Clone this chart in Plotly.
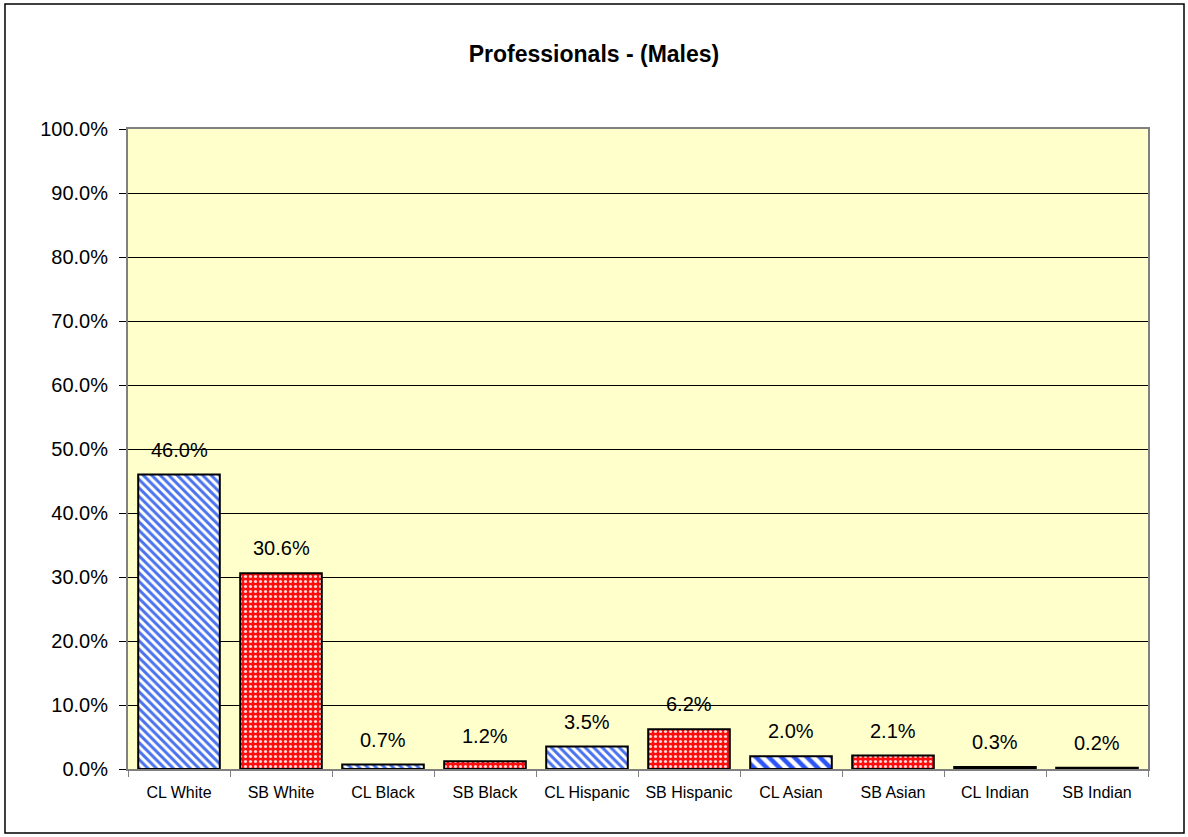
import plotly.graph_objects as go

categories = ["CL White", "SB White", "CL Black", "SB Black", "CL Hispanic",
              "SB Hispanic", "CL Asian", "SB Asian", "CL Indian", "SB Indian"]
values = [46.0, 30.6, 0.7, 1.2, 3.5, 6.2, 2.0, 2.1, 0.3, 0.2]
y_ticks = [0, 10, 20, 30, 40, 50, 60, 70, 80, 90, 100]
y_tick_labels = [f"{t:.1f}%" for t in y_ticks]

cl_cats = ["CL White", "CL Black", "CL Hispanic", "CL Indian"]
cl_asian_cats = ["CL Asian"]
sb_cats = ["SB White", "SB Black", "SB Hispanic", "SB Asian", "SB Indian"]

val = dict(zip(categories, values))

BLUE = "#4a72ee"
BLUE2 = "#2d55f5"
RED = "#ff0d0d"

font = "Arial, Liberation Sans, sans-serif"


def bar_trace(cats, bg, fg, shape, size, solidity):
    return go.Bar(
        x=cats, y=[val[c] for c in cats],
        marker=dict(
            color=bg,
            line=dict(color="black", width=2),
            pattern=dict(shape=shape, fgcolor=fg, size=size,
                         solidity=solidity, fillmode="overlay", fgopacity=1),
        ),
        width=0.8,
    )


fig = go.Figure([
    bar_trace(cl_cats, "white", BLUE, "\\", 6, 0.5),
    bar_trace(cl_asian_cats, "white", BLUE2, "\\", 9, 0.5),
    bar_trace(sb_cats, RED, "#ffd8d8", ".", 5, 0.3),
])

annotations = [
    dict(x=c, y=v, xref="x", yref="y", text=f"{v:.1f}%", showarrow=False,
         yanchor="bottom", yshift=12,
         font=dict(family=font, size=20, color="black"))
    for c, v in zip(categories, values)
]

fig.update_layout(
    width=1188, height=837,
    margin=dict(l=128, r=40, t=129, b=68),
    paper_bgcolor="white",
    plot_bgcolor="#ffffcc",
    showlegend=False,
    barmode="overlay",
    title=dict(text="<b>Professionals - (Males)</b>", x=0.5, xanchor="center",
               y=1 - 54 / 837, yanchor="middle",
               font=dict(family=font, size=23, color="black")),
    font=dict(family=font, color="black"),
    annotations=annotations,
    shapes=[dict(type="rect", xref="paper", yref="paper",
                 x0=-0.1206, x1=1.0353, y0=-0.1, y1=1.1953,
                 line=dict(color="black", width=1.5), layer="below")],
)

fig.update_xaxes(
    type="category", categoryorder="array", categoryarray=categories,
    showgrid=False, showline=True, linecolor="#808080",
    linewidth=2, mirror=True, ticks="outside", tickson="boundaries",
    ticklen=6, tickcolor="#808080", tickfont=dict(size=16, family=font),
    ticklabelstandoff=8,
)
fig.update_yaxes(
    range=[0, 100], tickvals=y_ticks, ticktext=y_tick_labels,
    showgrid=True, gridcolor="black", gridwidth=1,
    showline=True, linecolor="#808080", linewidth=2, mirror=True,
    ticks="outside", ticklen=7, tickcolor="black",
    tickfont=dict(size=20, family=font), zeroline=False,
    ticklabelstandoff=7,
)

fig.write_html("out.html", config={"displayModeBar": False},
               post_script="document.body.style.margin='0';")
